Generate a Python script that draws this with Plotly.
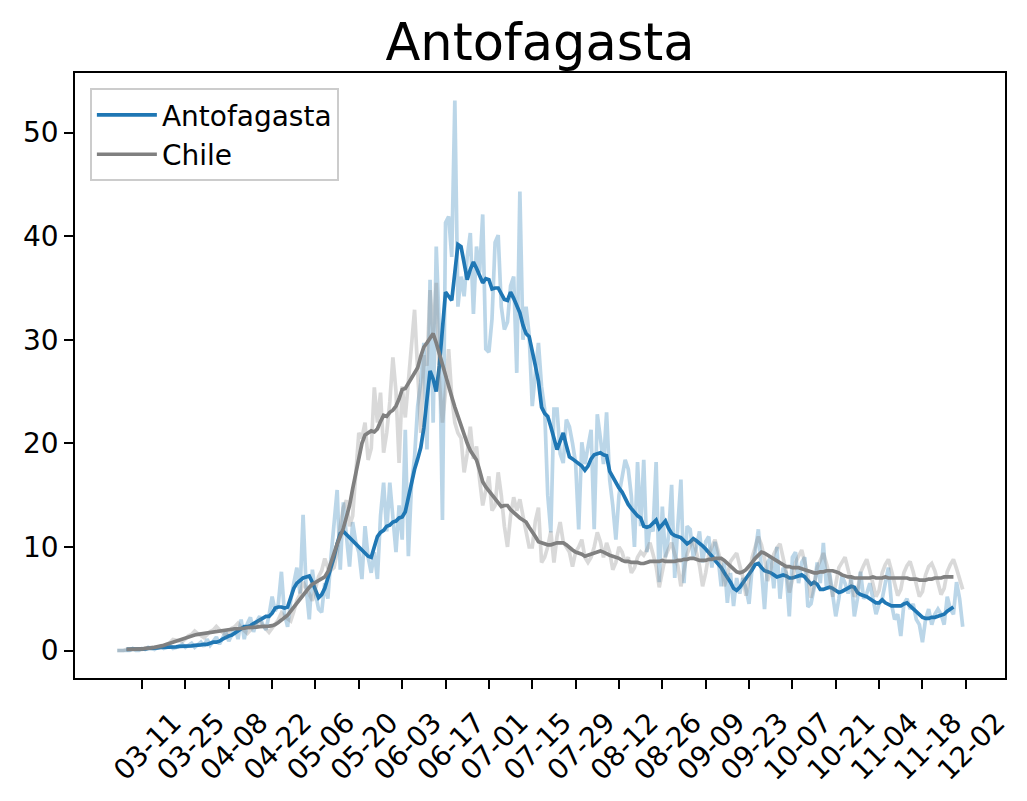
'''Antofagasta vs Chile: daily cases with 7-day average.'''

import pandas as pd
import plotly.graph_objects as go

# daily values start on this date, the averaged series three days later
FIRST_DAY = '2020-03-03'
FIRST_AVG_DAY = '2020-03-06'

antofagasta_daily = [
    0, 0, 0, 0, 0, 0.2, 0, 0, 0.2, 0.1,
    0.3, 0.2, 0.1, 0.3, 0.4, 0.2, 0.3, 0.5, 0.2, 0.3,
    0.4, 0.6, 0.3, 0.5, 0.7, 0.3, 0.5, 0.8, 0.4, 1.1,
    0.5, 0.9, 1.3, 0.6, 1.2, 1.8, 0.9, 1.6, 2.2, 1.1,
    3.0, 1.1, 2.6, 3.2, 1.8, 2.8, 3.3, 2.5, 2.0, 3.4,
    5.2, 3.8, 4.5, 7.6, 3.5, 2.3, 4.8, 6.5, 8.0, 5.5,
    13.1, 6.0, 3.0, 7.8, 5.5, 4.0, 3.7, 6.5, 5.0, 9.0,
    12.0, 15.5, 7.8, 14.3, 11.0, 8.1, 12.4, 10.5, 9.5, 6.9,
    12.0, 9.0, 7.5, 9.5, 6.9, 13.0, 16.2, 11.5, 16.2, 12.5,
    9.5, 14.0, 10.7, 21.3, 9.1, 16.0, 18.7, 23.6, 25.9, 29.7,
    19.4, 35.8, 22.0, 39.0, 31.0, 12.6, 41.3, 41.9, 38.0, 53.1,
    33.2, 36.1, 34.2, 38.0, 40.3, 32.5, 39.0, 36.5, 42.1, 29.1,
    28.8, 32.0, 39.4, 40.1, 33.2, 31.0, 31.7, 35.2, 36.1, 26.8,
    44.3, 30.0, 33.2, 30.5, 23.6, 26.8, 29.7, 25.5, 23.3, 15.0,
    11.4, 23.3, 23.3, 19.0, 18.1, 22.3, 21.6, 20.0, 18.1, 11.7,
    20.1, 18.0, 19.5, 21.3, 11.7, 22.8, 20.5, 18.0, 23.0, 16.5,
    14.0, 10.7, 15.0, 16.5, 18.4, 17.5, 14.9, 10.0, 18.2, 12.0,
    18.4, 9.5, 12.0, 11.5, 18.2, 6.6, 13.9, 9.0, 11.0, 16.0,
    7.0, 12.0, 16.5, 6.5, 12.0, 11.7, 9.0, 10.0, 11.5, 8.5,
    10.5, 11.0, 8.0, 10.5, 9.0, 6.2, 8.5, 4.6, 7.5, 4.3,
    7.0, 5.5, 7.0, 6.0, 4.5, 8.0, 9.5, 11.7, 7.5, 4.0,
    8.5, 9.0, 6.0, 10.0, 5.0, 8.0, 7.5, 3.3, 9.0, 9.5,
    6.5, 8.5, 9.0, 4.2, 4.5, 6.0, 8.5, 6.5, 10.4, 6.0,
    7.5, 5.5, 3.3, 5.0, 7.2, 6.5, 5.5, 7.0, 3.3, 5.0,
    7.6, 5.0, 5.5, 6.5, 5.0, 3.5, 4.5, 5.0, 6.5, 8.0,
    4.5, 3.0, 3.5, 1.4, 4.5, 5.0, 4.0, 4.5, 3.0, 2.5,
    0.8, 3.0, 4.0, 2.5, 3.5, 4.0, 3.5, 2.5, 5.2, 4.0,
    3.5, 6.6, 5.0, 2.3,
]

chile_daily = [
    0, 0, 0, 0.1, 0.1, 0.1, 0.1, 0.1, 0.1, 0.2,
    0.2, 0.3, 0.3, 0.3, 0.3, 0.45, 0.63, 0.77, 1.06, 1.0,
    0.95, 0.86, 1.13, 1.42, 1.54, 1.88, 1.63, 1.44, 1.24, 1.53,
    1.84, 1.98, 2.31, 2.0, 1.76, 1.5, 1.8, 2.15, 2.31, 2.63,
    2.2, 1.94, 1.65, 1.98, 2.31, 2.48, 2.88, 2.42, 2.07, 1.76,
    2.16, 2.63, 2.97, 3.63, 3.26, 3.06, 2.85, 3.78, 4.83, 5.39,
    6.63, 5.99, 5.49, 4.8, 5.94, 7.14, 7.7, 8.88, 7.98, 7.74,
    8.0, 9.5, 12.0, 13.8, 14.5, 12.0, 13.0, 17.5, 21.0, 20.5,
    22.0, 18.4, 19.5, 25.4, 22.0, 24.9, 19.1, 21.0, 24.0, 28.3,
    25.0, 18.1, 25.5, 22.5, 26.0, 29.0, 32.9, 27.0, 21.0, 28.5,
    27.5, 34.8, 30.5, 35.5, 26.0, 22.0, 25.0, 29.1, 24.5, 22.0,
    21.0, 20.5, 17.2, 19.0, 21.6, 18.5, 19.7, 16.5, 14.0, 15.5,
    16.8, 13.5, 14.0, 17.2, 15.0, 12.0, 10.0, 13.0, 14.8, 13.5,
    14.6, 13.0, 11.5, 10.0, 10.0, 12.5, 13.8, 8.5, 9.0, 10.0,
    11.5, 8.5, 11.0, 12.4, 10.5, 10.0, 9.5, 8.1, 9.5, 10.0,
    10.7, 9.0, 8.5, 9.0, 10.0, 11.4, 10.5, 9.0, 10.4, 9.5,
    7.8, 8.5, 10.0, 9.5, 8.5, 9.0, 7.5, 8.0, 9.0, 9.5,
    9.2, 9.7, 10.4, 9.3, 8.1, 6.1, 7.5, 9.1, 9.8, 10.4,
    9.3, 8.2, 6.2, 7.6, 9.3, 10.1, 10.7, 9.5, 8.2, 6.2,
    7.5, 9.3, 10.0, 10.7, 9.6, 8.4, 6.2, 7.2, 8.6, 9.0,
    9.4, 8.2, 7.1, 5.3, 6.9, 9.0, 10.1, 11.0, 10.2, 8.9,
    6.7, 7.8, 9.3, 9.9, 10.3, 9.0, 7.6, 5.6, 6.8, 8.5,
    9.2, 9.7, 8.5, 7.2, 5.1, 6.3, 8.0, 8.8, 9.4, 8.4,
    7.2, 5.2, 6.4, 8.0, 8.5, 9.0, 7.8, 6.6, 5.2, 5.8,
    7.5, 8.2, 8.8, 7.7, 6.6, 5.2, 5.8, 7.5, 8.3, 8.8,
    7.7, 6.5, 5.3, 5.9, 7.5, 8.2, 8.6, 7.6, 6.4, 5.2,
    5.7, 7.3, 8.1, 8.4, 7.7, 6.5, 5.4, 6.0, 7.6, 8.3,
    8.8, 7.9, 6.8, 5.9,
]

antofagasta_avg = [
    0.1, 0.1, 0.1, 0.1, 0.1, 0.1, 0.15, 0.2, 0.2, 0.2,
    0.25, 0.3, 0.3, 0.3, 0.3, 0.3, 0.35, 0.4, 0.4, 0.4,
    0.45, 0.45, 0.5, 0.5, 0.55, 0.6, 0.6, 0.7, 0.8, 0.8,
    0.9, 1.1, 1.3, 1.4, 1.5, 1.7, 1.9, 2.1, 2.3, 2.3,
    2.4, 2.6, 2.8, 3.0, 3.2, 3.3, 3.3, 3.6, 4.1, 4.2,
    4.2, 4.1, 4.2, 5.0, 6.0, 6.5, 6.8, 7.0, 7.1, 7.2,
    6.6, 5.8, 5.1, 5.4, 6.0, 7.0, 7.9, 9.0, 10.3, 11.3,
    11.5, 11.2, 10.8, 10.5, 10.3, 9.9, 9.6, 9.3, 9.1, 9.0,
    10.1, 11.0, 11.4, 11.6, 12.0, 12.1, 12.4, 12.5, 12.8, 12.9,
    13.4, 14.8, 16.3, 17.5, 18.5, 19.6, 21.5, 24.5, 27.0, 26.2,
    25.0, 27.5, 31.5, 34.6, 34.2, 33.8, 36.5, 39.2, 39.0, 37.5,
    35.8, 36.8, 37.5, 36.9, 36.2, 35.5, 35.9, 35.8, 34.9, 35.0,
    35.0, 34.4, 33.9, 33.8, 34.6, 34.0, 33.3, 32.6, 31.4, 30.6,
    30.3, 28.7, 27.5, 26.0, 23.5, 22.9, 22.6, 21.6, 20.4, 19.4,
    20.2, 21.0, 19.8, 18.7, 18.5, 18.3, 18.1, 17.8, 17.4, 17.8,
    18.5, 18.9, 19.0, 19.1, 18.9, 18.8, 17.3, 16.7, 16.2, 15.7,
    15.3, 14.7, 14.1, 13.7, 13.3, 13.0, 12.8, 12.0, 11.9, 12.0,
    12.3, 12.6, 11.8, 12.1, 12.5, 11.8, 11.3, 11.1, 11.0, 10.9,
    10.6, 10.3, 10.5, 10.8, 10.6, 10.4, 10.1, 9.8, 9.5, 9.1,
    8.7, 8.4, 8.0, 7.5, 7.1, 6.6, 6.0, 5.8, 6.1, 6.5,
    7.0, 7.4, 7.8, 8.3, 8.4, 8.0, 7.7, 7.6, 7.5, 7.3,
    7.1, 7.2, 7.3, 7.2, 7.0, 7.0, 7.1, 7.2, 7.3, 7.1,
    6.7, 6.4, 6.6, 6.4, 5.9, 5.9, 6.0, 6.1, 6.0, 5.8,
    5.6, 5.7, 5.9, 6.0, 6.2, 6.1, 5.6, 5.4, 5.3, 5.2,
    5.0, 4.8, 4.6, 4.6, 4.9, 4.6, 4.4, 4.3, 4.3, 4.3,
    4.3, 4.5, 4.6, 4.3, 4.0, 3.8, 3.5, 3.2, 3.1, 3.1,
    3.2, 3.2, 3.3, 3.4, 3.5, 3.8, 4.0, 4.2,
]

chile_avg = [
    0.1, 0.1, 0.1, 0.1, 0.15, 0.15, 0.2, 0.2, 0.25, 0.3,
    0.35, 0.4, 0.5, 0.6, 0.7, 0.85, 0.95, 1.05, 1.15, 1.25,
    1.35, 1.4, 1.5, 1.55, 1.6, 1.65, 1.7, 1.75, 1.8, 1.85,
    1.9, 1.95, 2.0, 2.0, 2.05, 2.1, 2.1, 2.1, 2.15, 2.2,
    2.2, 2.2, 2.25, 2.3, 2.3, 2.3, 2.35, 2.4, 2.5, 2.7,
    2.9, 3.1, 3.4, 3.8, 4.2, 4.6, 4.9, 5.3, 5.7, 6.1,
    6.4, 6.6, 6.8, 7.0, 7.1, 7.6, 8.6, 9.5, 10.3, 11.0,
    11.8, 12.9, 14.0, 15.6, 17.0, 18.2, 20.0, 20.8, 21.0, 21.2,
    21.1, 21.4, 22.1, 22.7, 22.6, 23.0, 23.2, 23.6, 24.3, 25.2,
    25.3, 25.8, 26.2, 26.7, 27.3, 28.4, 29.3, 29.7, 30.2, 30.6,
    29.7, 28.6, 27.5, 26.5, 25.6, 24.5, 23.5, 22.6, 21.8, 20.8,
    20.0, 19.3, 18.8, 18.4, 17.4, 16.3, 15.8, 15.4, 15.0, 14.6,
    14.2, 13.9, 14.0, 14.0, 13.6, 13.3, 13.0, 12.8, 12.6, 12.4,
    11.9, 11.5, 11.0, 10.5, 10.4, 10.3, 10.2, 10.2, 10.3, 10.4,
    10.4, 10.4, 10.2, 9.9, 9.7, 9.5, 9.4, 9.3, 9.1, 9.2,
    9.3, 9.4, 9.5, 9.6, 9.5, 9.3, 9.2, 9.1, 9.0, 8.9,
    8.7, 8.6, 8.6, 8.5, 8.5, 8.5, 8.4, 8.4, 8.5, 8.6,
    8.6, 8.6, 8.6, 8.7, 8.6, 8.6, 8.6, 8.6, 8.7, 8.7,
    8.8, 8.8, 8.9, 8.9, 8.8, 8.7, 8.7, 8.7, 8.8, 8.8,
    8.9, 8.9, 8.9, 8.7, 8.4, 8.1, 7.8, 7.6, 7.5, 7.6,
    7.8, 8.1, 8.5, 8.9, 9.2, 9.5, 9.4, 9.2, 9.0, 8.8,
    8.7, 8.5, 8.3, 8.1, 8.1, 8.0, 8.0, 8.0, 7.9, 7.8,
    7.7, 7.6, 7.5, 7.5, 7.6, 7.6, 7.7, 7.7, 7.7, 7.6,
    7.5, 7.3, 7.2, 7.1, 7.1, 7.0, 7.0, 7.0, 7.0, 7.0,
    7.0, 7.1, 7.0, 7.0, 7.0, 7.1, 7.0, 7.0, 7.0, 7.0,
    7.0, 7.0, 7.0, 6.9, 6.9, 6.9, 6.8, 6.8, 6.8, 6.9,
    6.9, 7.0, 7.0, 7.0, 7.1, 7.1, 7.1, 7.1,
]

tick_labels = [
    '03-11', '03-25', '04-08', '04-22', '05-06', '05-20', '06-03',
    '06-17', '07-01', '07-15', '07-29', '08-12', '08-26', '09-09',
    '09-23', '10-07', '10-21', '11-04', '11-18', '12-02',
]

BLUE = '#1f77b4'
GREY = '#808080'
FONT = 'DejaVu Sans'
# the page body adds an 8px margin, so the margins below are reduced by it
PAGE_OFFSET = 8


def main():
    '''Build and save the figure.'''
    days = pd.date_range(FIRST_DAY, periods=len(antofagasta_daily))
    avg_days = pd.date_range(FIRST_AVG_DAY, periods=len(antofagasta_avg))

    fig = go.Figure()
    fig.add_trace(go.Scatter(
        x=days, y=antofagasta_daily, mode='lines', showlegend=False,
        line={'color': 'rgba(31,119,180,0.3)', 'width': 3.7},
    ))
    fig.add_trace(go.Scatter(
        x=avg_days, y=antofagasta_avg, mode='lines', name='Antofagasta',
        line={'color': BLUE, 'width': 3.7},
    ))
    fig.add_trace(go.Scatter(
        x=days, y=chile_daily, mode='lines', showlegend=False,
        line={'color': 'rgba(128,128,128,0.3)', 'width': 3.7},
    ))
    fig.add_trace(go.Scatter(
        x=avg_days, y=chile_avg, mode='lines', name='Chile',
        line={'color': GREY, 'width': 3.7},
    ))

    # matplotlib-like 5% padding around the data
    pad = (days[-1] - days[0]) * 0.05
    ymax = max(antofagasta_daily)
    ticks = [pd.Timestamp('2020-' + t) for t in tick_labels]

    axis = {
        'showline': True, 'linecolor': 'black', 'linewidth': 1.6,
        'mirror': True, 'showgrid': False, 'zeroline': False,
        'ticks': 'outside', 'ticklen': 9, 'tickwidth': 1.6,
        'tickcolor': 'black', 'tickfont': {'size': 28, 'color': 'black'},
    }
    fig.update_xaxes(
        **axis, range=[days[0] - pad, days[-1] + pad],
        tickvals=ticks, ticktext=tick_labels, tickangle=-45,
        ticklabelshift=31, ticklabelstandoff=6,
    )
    fig.update_yaxes(
        **axis, range=[-0.05 * ymax, 1.05 * ymax],
        tickvals=[0, 10, 20, 30, 40, 50],
    )
    fig.update_layout(
        width=1027, height=801,
        margin={'l': 75 - PAGE_OFFSET, 'r': 22 + PAGE_OFFSET,
                't': 73 - PAGE_OFFSET, 'b': 123 + PAGE_OFFSET},
        plot_bgcolor='white', paper_bgcolor='white',
        font={'family': FONT, 'color': 'black'},
        title={
            'text': 'Antofagasta', 'font': {'size': 51},
            'x': 0.5, 'xref': 'paper', 'xanchor': 'center',
            'y': 1 - (42 - PAGE_OFFSET) / 801, 'yref': 'container',
            'yanchor': 'middle',
        },
        legend={
            'x': 0.016, 'y': 0.975, 'xanchor': 'left', 'yanchor': 'top',
            'font': {'size': 28}, 'bgcolor': 'rgba(255,255,255,0.8)',
            'bordercolor': '#cccccc', 'borderwidth': 2, 'itemwidth': 60,
        },
    )
    fig.write_html('out.html')


if __name__ == '__main__':
    main()
